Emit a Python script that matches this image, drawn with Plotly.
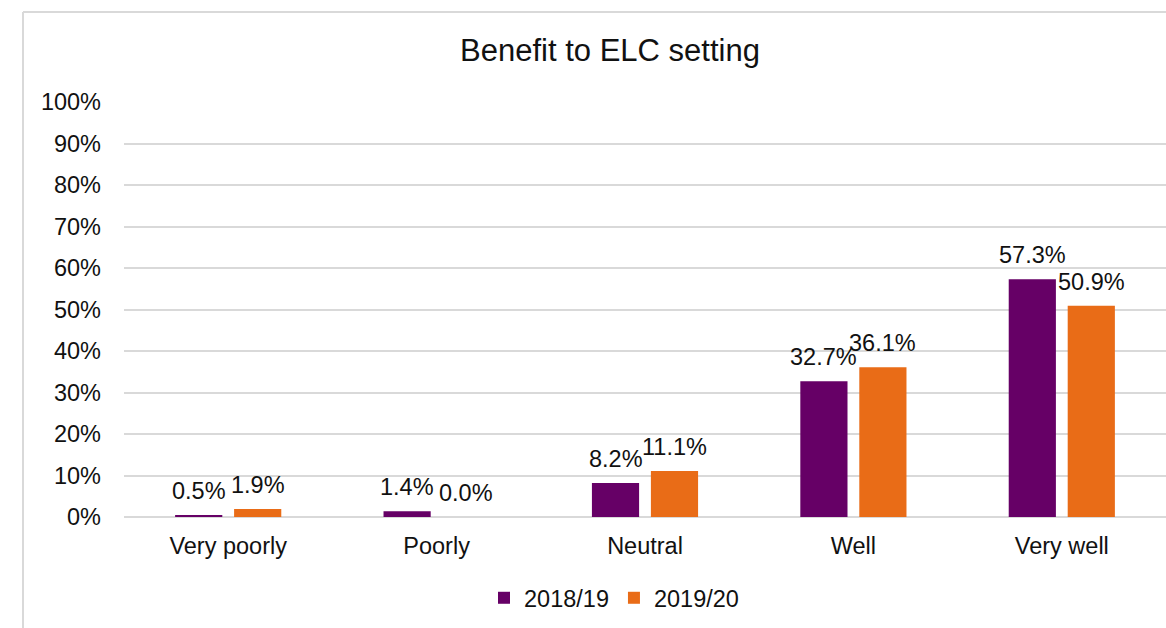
import plotly.graph_objects as go

# Survey responses: how well the placement benefited the ELC setting
categories = ["Very poorly", "Poorly", "Neutral", "Well", "Very well"]
series_names = ["2018/19", "2019/20"]
values_2018 = [0.005, 0.014, 0.082, 0.327, 0.573]
values_2019 = [0.019, 0.000, 0.111, 0.361, 0.509]
y_ticks = [0, 0.1, 0.2, 0.3, 0.4, 0.5, 0.6, 0.7, 0.8, 0.9, 1.0]
y_tick_labels = ["0%", "10%", "20%", "30%", "40%", "50%", "60%", "70%", "80%", "90%", "100%"]

PURPLE = "#660066"
ORANGE = "#E96C17"
FONT = "Liberation Sans, Arial, Helvetica, sans-serif"
TEXT = "#111111"
GRID = "#D9D9D9"

W, H = 1166, 628
M_L, M_R, M_T, M_B = 124, 0, 102, 111
plot_w = W - M_L - M_R
plot_h = H - M_T - M_B

BARGAP = 0.434
GROUPGAP = 0.2

fig = go.Figure()
for name, vals, color in [(series_names[0], values_2018, PURPLE),
                          (series_names[1], values_2019, ORANGE)]:
    fig.add_trace(go.Bar(
        x=categories, y=vals, name=name,
        marker=dict(color=color, line=dict(width=0)),
        hoverinfo="skip",
    ))

# value labels above each bar
slot = plot_w / len(categories) * (1 - BARGAP) / 2
annotations = []
for vals, shift in [(values_2018, -slot / 2), (values_2019, slot / 2)]:
    for cat, v in zip(categories, vals):
        annotations.append(dict(
            x=cat, y=v, xref="x", yref="y", text=f"{v * 100:.1f}%",
            showarrow=False, xanchor="center", yanchor="bottom",
            xshift=shift, yshift=9,
            font=dict(family=FONT, size=23.5, color=TEXT),
        ))

# outer chart frame (left and top edges visible)
frame_x0 = (23 - M_L) / plot_w
frame_y1 = 1 + (M_T - 12) / plot_h
shapes = [
    dict(type="line", xref="paper", yref="paper", x0=frame_x0, x1=frame_x0,
         y0=-0.5, y1=frame_y1, line=dict(color=GRID, width=2), layer="below"),
    dict(type="line", xref="paper", yref="paper", x0=frame_x0, x1=1.05,
         y0=frame_y1, y1=frame_y1, line=dict(color=GRID, width=2), layer="below"),
]

fig.update_layout(
    width=W, height=H,
    margin=dict(l=M_L, r=M_R, t=M_T, b=M_B, pad=0),
    paper_bgcolor="white", plot_bgcolor="white",
    barmode="group", bargap=BARGAP, bargroupgap=GROUPGAP,
    title=dict(text="Benefit to ELC setting", x=(610 - M_L) / plot_w, xref="paper",
               xanchor="center", y=1 - 50 / H, yanchor="middle",
               font=dict(family=FONT, size=31, color=TEXT)),
    font=dict(family=FONT, color=TEXT),
    xaxis=dict(
        showgrid=False, showline=False, zeroline=False, ticks="",
        tickfont=dict(family=FONT, size=23.5, color=TEXT),
        ticklabelstandoff=12,
    ),
    yaxis=dict(
        range=[0, 1.0], tickvals=y_ticks, ticktext=y_tick_labels,
        showgrid=True, gridcolor=GRID, gridwidth=2,
        zeroline=True, zerolinecolor=GRID, zerolinewidth=2,
        showline=False, ticks="",
        tickfont=dict(family=FONT, size=23.5, color=TEXT),
        ticklabelstandoff=22,
    ),
    legend=dict(
        orientation="h", x=(614 - M_L) / plot_w, xanchor="center",
        y=-(598 - (H - M_B)) / plot_h, yanchor="middle",
        font=dict(family=FONT, size=23.5, color=TEXT),
        itemwidth=30, tracegroupgap=0, bgcolor="rgba(0,0,0,0)",
    ),
    annotations=annotations,
    shapes=shapes,
    showlegend=True,
)

fig.write_html("out.html")
